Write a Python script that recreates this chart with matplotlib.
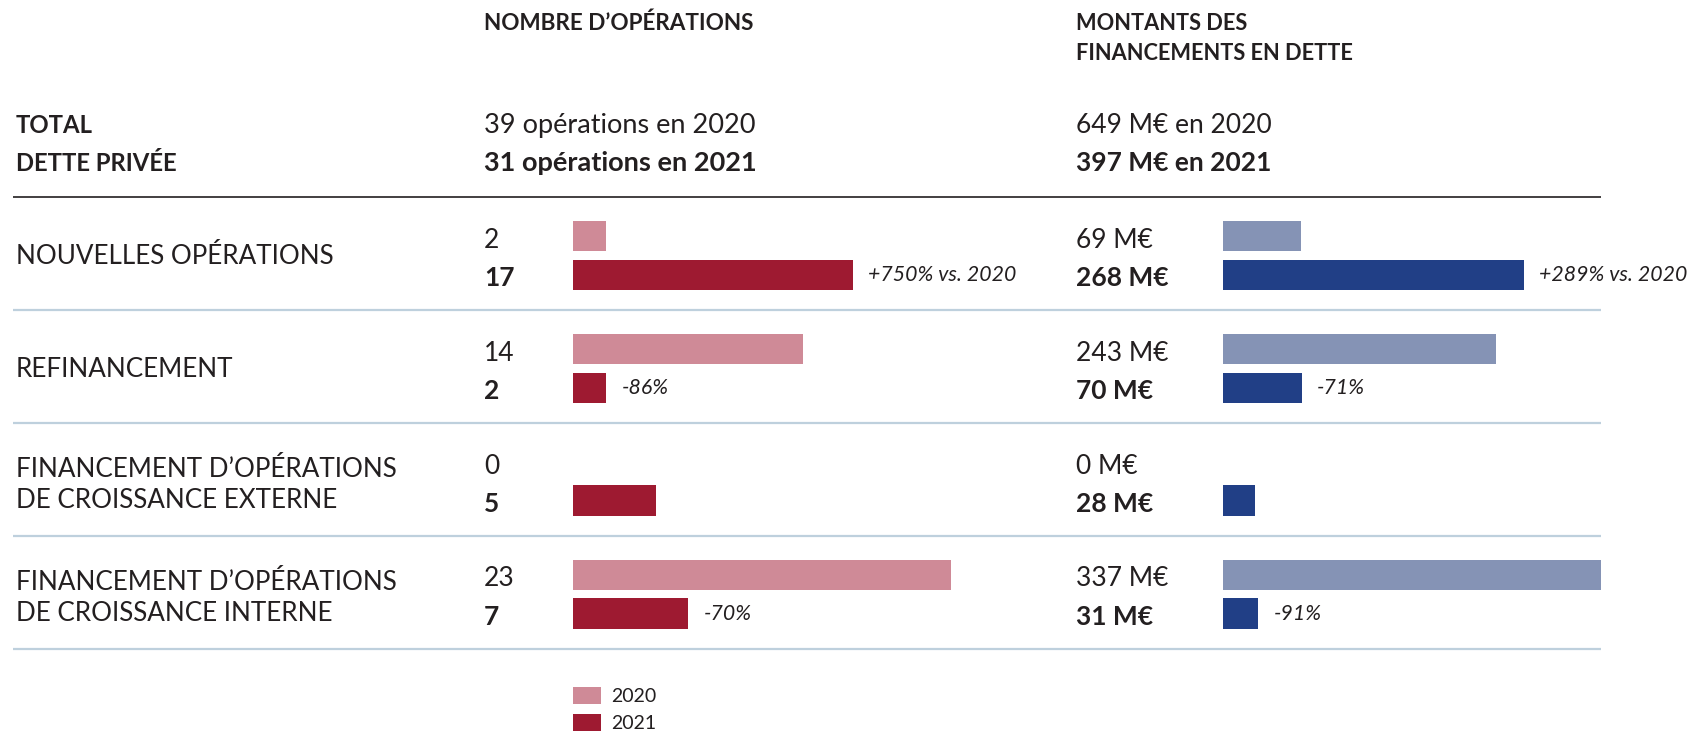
import matplotlib.pyplot as plt

plt.rcParams["font.family"] = ["Lato", "DejaVu Sans"]

# ── Data ──────────────────────────────────────────────────────
categories = [
    "NOUVELLES OPÉRATIONS",
    "REFINANCEMENT",
    "FINANCEMENT D’OPÉRATIONS\nDE CROISSANCE EXTERNE",
    "FINANCEMENT D’OPÉRATIONS\nDE CROISSANCE INTERNE",
]
ops_2020 = [2, 14, 0, 23]
ops_2021 = [17, 2, 5, 7]
amt_2020 = [69, 243, 0, 337]
amt_2021 = [268, 70, 28, 31]
ops_change = ["+750% vs. 2020", "-86%", "", "-70%"]
amt_change = ["+289% vs. 2020", "-71%", "", "-91%"]
years = ["2020", "2021"]
total_ops = [39, 31]
total_amt = [649, 397]

# ── Colours ───────────────────────────────────────────────────
red_light, red_dark = "#CF8A97", "#9E1A31"
blue_light, blue_dark = "#8593B5", "#213F86"
txt = "#231F20"
sep_col = "#BED0DD"

# ── Layout (pixels) ───────────────────────────────────────────
W, H = 1696, 731
row0, pitch = 255.5, 112.9
ylim = ((H - row0) / pitch, -row0 / pitch)
off = 0.172        # half distance between the two bars of a row
bar_h = 0.27

fig = plt.figure(figsize=(W / 100, H / 100), dpi=100)

base = fig.add_axes([0, 0, 1, 1])
base.set_xlim(0, W)
base.set_ylim(*ylim)
base.axis("off")

ops_left, ops_px = 573.3, 16.44     # px per operation
amt_left, amt_px = 1223.3, 1.1217   # px per M€

ax_ops = fig.add_axes([ops_left / W, 0, (1060 - ops_left) / W, 1])
ax_ops.set_xlim(0, (1060 - ops_left) / ops_px)
ax_amt = fig.add_axes([amt_left / W, 0, (W - amt_left) / W, 1])
ax_amt.set_xlim(0, (W - amt_left) / amt_px)
for ax in (ax_ops, ax_amt):
    ax.set_ylim(*ylim)
    ax.axis("off")
    ax.patch.set_alpha(0)

rows = list(range(len(categories)))

# ── Bars ──────────────────────────────────────────────────────
b20 = ax_ops.barh([r - off for r in rows], ops_2020, height=bar_h, color=red_light)
b21 = ax_ops.barh([r + off for r in rows], ops_2021, height=bar_h, color=red_dark)
ax_amt.barh([r - off for r in rows], amt_2020, height=bar_h, color=blue_light)
ax_amt.barh([r + off for r in rows], amt_2021, height=bar_h, color=blue_dark)

for ax, vals, labels in ((ax_ops, ops_2021, ops_change), (ax_amt, amt_2021, amt_change)):
    for r, v, lab in zip(rows, vals, labels):
        if lab:
            ax.annotate(lab, (v, r + off), xytext=(11, 0), textcoords="offset points",
                        va="center", ha="left", fontsize=15.3, style="italic",
                        color=txt)

# ── Row texts ─────────────────────────────────────────────────
x_lab, x_ops, x_amt = 16, 484, 1076
for r, cat in enumerate(categories):
    dy = 0.035 if "\n" in cat else 0.01
    base.text(x_lab, r + dy, cat, va="center", ha="left", fontsize=18.7,
              color=txt, linespacing=1.28)
    base.text(x_ops, r - 0.135, f"{ops_2020[r]}", va="center", fontsize=19,
              color=txt)
    base.text(x_ops, r + 0.2, f"{ops_2021[r]}", va="center", fontsize=19,
              color=txt, fontweight="bold")
    base.text(x_amt, r - 0.135, f"{amt_2020[r]} M€", va="center", fontsize=19,
              color=txt)
    base.text(x_amt, r + 0.2, f"{amt_2021[r]} M€", va="center", fontsize=19,
              color=txt, fontweight="bold")
    base.plot([13, 1601], [r + 0.482, r + 0.482], color=sep_col, lw=1.6,
              solid_capstyle="butt")

# ── Header ────────────────────────────────────────────────────
def ry(px):
    return (px - row0) / pitch

base.text(x_ops, ry(23), "NOMBRE D’OPÉRATIONS", va="center", fontsize=16.2,
          fontweight="bold", color=txt)
base.text(x_amt, ry(23), "MONTANTS DES", va="center", fontsize=15.7,
          fontweight="bold", color=txt)
base.text(x_amt, ry(53), "FINANCEMENTS EN DETTE", va="center", fontsize=15.7,
          fontweight="bold", color=txt)

base.text(x_lab, ry(125), "TOTAL", va="center", fontsize=17.2, fontweight="bold", color=txt)
base.text(x_lab, ry(163), "DETTE PRIVÉE", va="center", fontsize=17.2, fontweight="bold", color=txt)
base.text(x_ops, ry(125), f"{total_ops[0]} opérations en {years[0]}", va="center",
          fontsize=19.5, color=txt)
base.text(x_ops, ry(163), f"{total_ops[1]} opérations en {years[1]}", va="center",
          fontsize=19.5, fontweight="bold", color=txt)
base.text(x_amt, ry(125), f"{total_amt[0]} M€ en {years[0]}", va="center",
          fontsize=19, color=txt)
base.text(x_amt, ry(163), f"{total_amt[1]} M€ en {years[1]}", va="center",
          fontsize=19, fontweight="bold", color=txt)
base.plot([13, 1601], [ry(197), ry(197)], color=txt, lw=1.2, solid_capstyle="butt")

# ── Legend ────────────────────────────────────────────────────
ax_ops.legend([b20, b21], years, loc="upper left",
              bbox_to_anchor=(ops_left / W, 1 - 687 / H), bbox_transform=fig.transFigure,
              frameon=False, fontsize=14, handlelength=1.4, handleheight=0.95,
              handletextpad=0.55, labelspacing=0.45, borderpad=0, borderaxespad=0,
              labelcolor=txt)

fig.savefig("out.png", dpi=100, facecolor="white")
